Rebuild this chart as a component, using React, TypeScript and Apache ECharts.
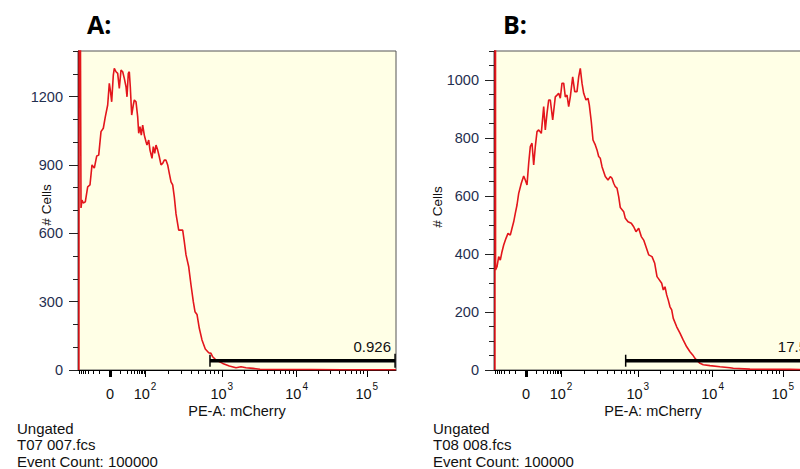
import React, { useEffect, useRef } from 'react';
import * as echarts from 'echarts';

// ---------- data (display channels 0..1024 on the biexponential PE-A axis) ----------
const panelTitles = ['A:', 'B:'];
const sampleNames = ['T07 007.fcs', 'T08 008.fcs'];
const eventCounts = [100000, 100000];
const gateLabels = ['0.926', '17.5'];
const gateStartChannel = [425, 424];
const gateEndChannel = [1021, 1021];
const gateLevel = [41, 32];

const aHistogram: number[][] = [
  [3, 0], [4, 3000], [9.7, 711], [12.9, 746], [17.1, 733], [23.5, 738], [31.2, 804], [38.6, 812],
  [45.1, 900], [52.5, 886], [60.2, 939], [66.7, 943], [74.1, 1046], [81.5, 1061], [87.9, 1111],
  [95.6, 1163], [100.8, 1258], [104, 1229], [108.5, 1177], [113.7, 1294], [116.9, 1324],
  [122.4, 1309], [127.8, 1302], [133, 1236], [138.5, 1316], [143.9, 1309], [149.1, 1280],
  [154.6, 1243], [157.8, 1199], [162, 1302], [165.2, 1309], [168.4, 1243], [172.9, 1119],
  [178.1, 1163], [181.3, 1185], [186.8, 1177], [192.2, 1111], [195.5, 1039], [199.6, 1068],
  [203.8, 1031], [208.3, 1075], [213.5, 1031], [219, 1002], [222.2, 987], [227.7, 1009],
  [231.8, 965], [238.3, 929], [242.5, 980], [247, 951], [251.2, 987], [256.6, 965], [261.8, 936],
  [267.3, 900], [272.7, 907], [277.9, 921], [283.4, 921], [288.8, 900], [294, 863], [299.5, 826],
  [304.9, 812], [310.1, 760], [315.6, 685], [324.3, 614], [337.1, 614], [342.3, 563], [347.8, 505],
  [356.5, 453], [363.9, 373], [371.3, 300], [376.7, 256], [383.2, 244], [390.6, 183], [399.3, 132],
  [409.9, 92], [420.9, 76], [428.3, 73], [433.7, 58], [444.4, 44], [466, 29], [487.2, 18],
  [508.8, 10], [524.9, 14], [541, 10], [563.5, 7], [586, 3], [650, 2], [750, 2], [850, 1],
  [950, 1], [1024, 1],
];

const bHistogram: number[][] = [
  [3, 0], [4, 5000], [5, 345], [9.7, 356], [15.1, 391], [20.3, 379], [25.8, 408], [31.2, 431],
  [38.6, 454], [45.1, 471], [52.5, 465], [58, 489], [63.4, 511], [68.6, 540], [74.1, 569],
  [79.5, 609], [87.9, 644], [95.6, 669], [100.8, 655], [106.3, 638], [111.7, 713], [116.9, 770],
  [122.4, 782], [127.8, 707], [133, 770], [138.5, 822], [143.9, 828], [152.3, 816], [160, 908],
  [165.2, 828], [170.7, 885], [176.1, 931], [181.3, 931], [189, 862], [197.4, 942], [202.9, 948],
  [208.3, 954], [213.5, 937], [219, 989], [224.4, 989], [229.6, 942], [235.1, 948], [240.5, 908],
  [245.7, 942], [253.4, 1011], [259.9, 960], [267.3, 960], [272.7, 1011], [277.9, 1040],
  [283.4, 989], [288.8, 954], [296.2, 931], [302.7, 937], [306.9, 914], [313.3, 856], [318.8, 793],
  [326.2, 776], [331.7, 759], [337.1, 736], [342.3, 730], [347.8, 701], [358.4, 667], [367.1, 655],
  [374.5, 667], [380, 661], [385.4, 644], [390.6, 632], [396.1, 627], [401.5, 598], [406.7, 560],
  [417.6, 546], [422.8, 523], [431.5, 511], [442.1, 506], [449.8, 494], [457.2, 477], [465.9, 489],
  [474.3, 460], [482, 448], [489.4, 425], [498.1, 397], [508.8, 391], [517.5, 368], [524.9, 322],
  [529, 316], [540, 299], [545.2, 276], [550.6, 287], [556.1, 259], [561.2, 241], [566.7, 218],
  [572.2, 207], [577.3, 178], [588.3, 149], [598.9, 127], [609.5, 103], [620.5, 80], [631.1, 63],
  [639.8, 52], [647.2, 40], [654.6, 32], [663.3, 23], [673.9, 18], [695.5, 15], [727.7, 11],
  [759.9, 8], [770.6, 6], [824, 3], [953, 2], [1024, 1],
];

// y axes
const yMax = [1400, 1100];
const yLabelTicks = [[0, 300, 600, 900, 1200], [0, 200, 400, 600, 800, 1000]];
const yMinorStep = [100, 50];

// x axis (biexponential display scale)
const channelMax = 1024;
const zeroChannel = 103;
const decadeExponents = [2, 3, 4, 5];
const decadeChannels = [216, 463, 704, 930];
const xMajorValues = [0, 100, 1000, 10000, 100000];
const xMajorBase = ['0', '10', '10', '10', '10'];
const xMajorExp = ['', '2', '3', '4', '5'];
const xMinorValues = [
  -90, -80, -70, -60, -50, -40, -30, -20, -10,
  10, 20, 30, 40, 50, 60, 70, 80, 90,
  200, 300, 400, 500, 600, 700, 800, 900,
  2000, 3000, 4000, 5000, 6000, 7000, 8000, 9000,
  20000, 30000, 40000, 50000, 60000, 70000, 80000, 90000,
  200000,
];

function toChannel(v: number): number {
  const s = Math.sign(v);
  const a = Math.abs(v);
  if (a <= 100) {
    return zeroChannel + s * (decadeChannels[0] - zeroChannel) * Math.asinh(a / 10) / Math.asinh(10);
  }
  const d = Math.log10(a);
  const i = Math.max(0, Math.min(Math.floor(d) - 2, decadeExponents.length - 2));
  const c = decadeChannels[i] + (d - decadeExponents[i]) * (decadeChannels[i + 1] - decadeChannels[i]);
  return s > 0 ? c : 2 * zeroChannel - c;
}

const FONT = '"Liberation Sans", Arial, sans-serif';

export default function App() {
  const ref = useRef<HTMLDivElement>(null);
  useEffect(() => {
    if (!ref.current) return;
    const chart = echarts.init(ref.current, undefined, { renderer: 'svg' });

    const gridLefts = [78, 494];
    const histograms = [aHistogram, bHistogram];
    const majorCh = xMajorValues.map(toChannel);
    const minorCh = xMinorValues.map(toChannel).filter((c) => c > 0 && c < channelMax);

    const grids: any[] = [];
    const xAxes: any[] = [];
    const yAxes: any[] = [];
    const series: any[] = [];
    const graphics: any[] = [];
    const yNamePos = [[46, 205], [437, 207]];

    for (let p = 0; p < 2; p++) {
      grids.push({
        left: gridLefts[p], top: 51, width: 318, height: 319,
        show: true, backgroundColor: '#FFFFE6', borderColor: '#555', borderWidth: 1, z: 0,
      });
      const base = { type: 'value', gridIndex: p, min: 0, max: channelMax, position: 'bottom', splitLine: { show: false } };
      xAxes.push({
        ...base,
        axisLine: { show: true, lineStyle: { color: '#000', width: 1 } },
        axisTick: { show: true, customValues: majorCh.slice(1), length: 7, lineStyle: { color: '#000', width: 1 } },
        axisLabel: {
          show: true, customValues: majorCh, margin: 9, color: '#111', fontFamily: FONT, fontSize: 14.5,
          formatter: (val: number) => {
            let best = 0;
            for (let i = 0; i < majorCh.length; i++) if (Math.abs(majorCh[i] - val) < Math.abs(majorCh[best] - val)) best = i;
            const e = xMajorExp[best];
            return '{b|' + xMajorBase[best] + '}' + (e ? '{s|' + e + '}' : '');
          },
          rich: {
            b: { fontFamily: FONT, fontSize: 14.5, color: '#111', lineHeight: 22, verticalAlign: 'bottom' },
            s: { fontFamily: FONT, fontSize: 10, color: '#111', lineHeight: 22, verticalAlign: 'top', padding: [2, 0, 0, 1] },
          },
        },
        name: 'PE-A: mCherry', nameLocation: 'middle', nameGap: 33, nameMoveOverlap: false,
        nameTextStyle: { fontFamily: FONT, fontSize: 14.5, color: '#111' },
      });
      xAxes.push({
        ...base,
        axisLine: { show: false },
        axisTick: { show: true, customValues: minorCh, length: 4, lineStyle: { color: '#000', width: 1 } },
        axisLabel: { show: false },
      });
      xAxes.push({
        ...base,
        axisLine: { show: false },
        axisTick: { show: true, customValues: [majorCh[0]], length: 7, lineStyle: { color: '#000', width: 3 } },
        axisLabel: { show: false },
      });

      const minorY: number[] = [];
      for (let v = 0; v <= yMax[p]; v += yMinorStep[p]) minorY.push(v);
      yAxes.push({
        type: 'value', gridIndex: p, min: 0, max: yMax[p], position: 'left',
        splitLine: { show: false },
        axisLine: { show: true, lineStyle: { color: '#000', width: 1 } },
        axisTick: { show: true, customValues: yLabelTicks[p], length: 9, lineStyle: { color: '#222' } },
        axisLabel: {
          show: true, customValues: yLabelTicks[p], margin: 15, color: '#1F2F4F', fontFamily: FONT, fontSize: 14.5,
          formatter: (v: number) => String(Math.round(v)),
        },
      });
      yAxes.push({
        type: 'value', gridIndex: p, min: 0, max: yMax[p], position: 'left',
        splitLine: { show: false },
        axisLine: { show: false },
        axisTick: { show: true, customValues: minorY, length: 5, lineStyle: { color: '#222' } },
        axisLabel: { show: false },
      });

      series.push({
        type: 'line', xAxisIndex: p * 3, yAxisIndex: p * 2, data: histograms[p],
        showSymbol: false, symbol: 'none', clip: true, z: 3,
        lineStyle: { color: '#E3161C', width: 1.6 },
      });
      const label = gateLabels[p];
      series.push({
        type: 'custom', xAxisIndex: p * 3, yAxisIndex: p * 2, z: 4,
        encode: { x: [0, 1], y: 2 },
        data: [[gateStartChannel[p], gateEndChannel[p], gateLevel[p]]],
        renderItem: (_params: any, api: any) => {
          const p0 = api.coord([api.value(0), api.value(2)]);
          const p1 = api.coord([api.value(1), api.value(2)]);
          return {
            type: 'group',
            children: [
              { type: 'line', shape: { x1: p0[0], y1: p0[1], x2: p1[0], y2: p1[1] }, style: { stroke: '#000', lineWidth: 3.5 } },
              { type: 'line', shape: { x1: p0[0], y1: p0[1] - 6, x2: p0[0], y2: p0[1] + 6 }, style: { stroke: '#000', lineWidth: 1.5 } },
              { type: 'line', shape: { x1: p1[0], y1: p1[1] - 7, x2: p1[0], y2: p1[1] + 7 }, style: { stroke: '#000', lineWidth: 1.5 } },
              { type: 'text', x: p1[0] - 4, y: p1[1] - 14, style: { text: label, fill: '#111', font: '15px ' + FONT, align: 'right', verticalAlign: 'middle' } },
            ],
          };
        },
      });

      graphics.push({
        type: 'text', x: yNamePos[p][0], y: yNamePos[p][1], rotation: Math.PI / 2,
        style: { text: '# Cells', font: '13.5px ' + FONT, fill: '#111', align: 'center', verticalAlign: 'middle' },
      });
      graphics.push({
        type: 'text', left: gridLefts[p] + 9, top: 11,
        style: { text: panelTitles[p], font: 'bold 25px "Open Sans", "Liberation Sans", sans-serif', fill: '#000' },
      });
      graphics.push({
        type: 'text', left: gridLefts[p] - 61, top: 420,
        style: {
          text: 'Ungated\n' + sampleNames[p] + '\nEvent Count: ' + eventCounts[p],
          font: '15px ' + FONT, lineHeight: 16.5, fill: '#111',
        },
      });
    }

    chart.setOption({
      animation: false,
      backgroundColor: '#fff',
      grid: grids,
      xAxis: xAxes,
      yAxis: yAxes,
      series,
      graphic: graphics,
    });
    return () => chart.dispose();
  }, []);

  return (
    <div style={{ position: 'fixed', left: 0, top: 0, width: 800, height: 469, overflow: 'hidden', background: '#fff' }}>
      <div ref={ref} style={{ width: 830, height: 469 }} />
    </div>
  );
}
